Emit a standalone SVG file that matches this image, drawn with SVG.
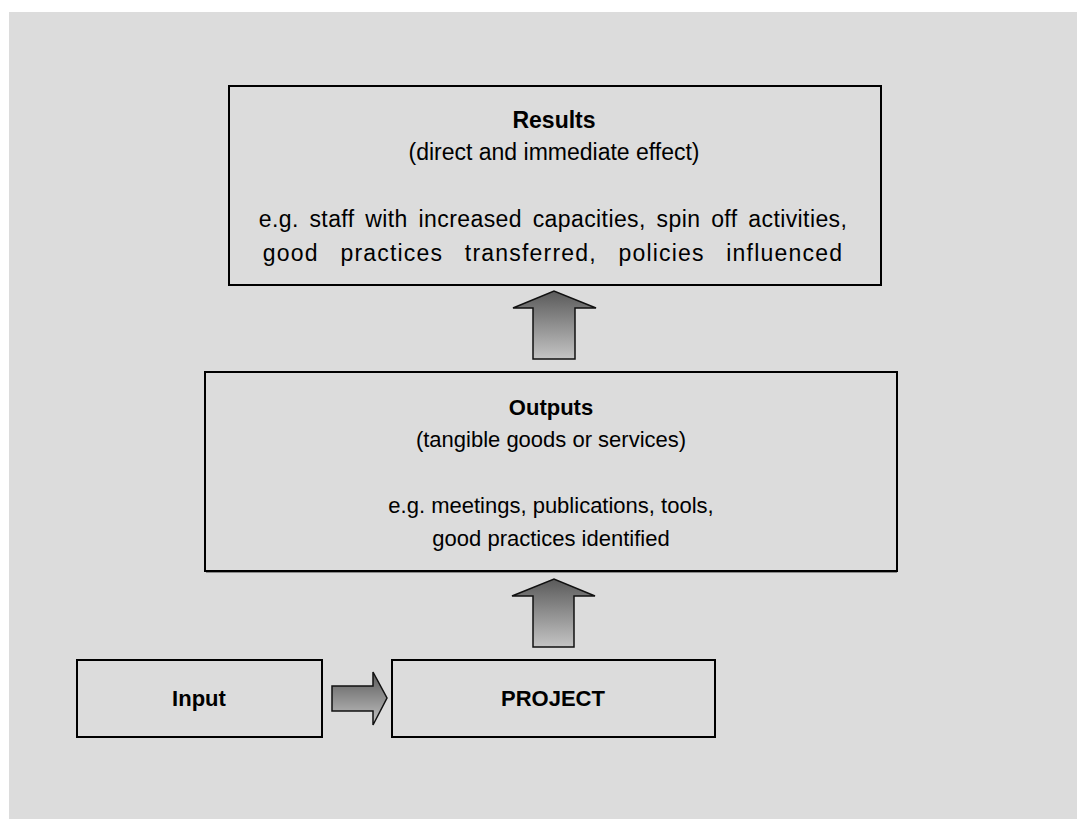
<svg xmlns="http://www.w3.org/2000/svg" width="1077" height="819" viewBox="0 0 1077 819">
<defs>
<linearGradient id="g" x1="0" y1="0" x2="0" y2="1">
<stop offset="0" stop-color="#5a5a5a"/>
<stop offset="1" stop-color="#c4c4c4"/>
</linearGradient>
<style>
.box{fill:none;stroke:#000;stroke-width:2}
.sh{fill:none;stroke:#8a8a8a;stroke-width:2}
.arr{fill:url(#g);stroke:#111;stroke-width:1.5;stroke-linejoin:miter}
text{font-family:"Liberation Sans",Arial,sans-serif;font-size:22px;fill:#000;text-anchor:middle}
.b{font-weight:bold}
.r{font-size:23px}
</style>
</defs>
<rect x="0" y="0" width="1077" height="819" fill="#fff"/>
<rect x="9" y="12" width="1068" height="807" fill="#dcdcdc"/>
<g id="connectors">
<path class="arr" d="M533,359 L533,308 L513,308 L554,291 L596,308 L575,308 L575,359 Z"/>
<path class="arr" d="M533,647 L533,596 L512,596 L554,579 L595,596 L574,596 L574,647 Z"/>
<path class="arr" d="M332,686 L373,686 L373,672 L387,698 L373,725 L373,711 L332,711 Z"/>
</g>
<g id="results">
<rect class="box" x="229" y="86" width="652" height="199"/>
<text class="b r" x="554" y="128">Results</text>
<text class="r" x="554" y="160">(direct and immediate effect)</text>
<text class="r" x="553" y="227" style="word-spacing:4px;letter-spacing:0.4px">e.g. staff with increased capacities, spin off activities,</text>
<text class="r" x="553" y="261" style="word-spacing:14px;letter-spacing:1.2px">good practices transferred, policies influenced</text>
</g>
<g id="outputs">
<path class="sh" d="M206,572 L897,572"/>
<rect class="box" x="205" y="372" width="692" height="199"/>
<text class="b" x="551" y="415">Outputs</text>
<text x="551" y="447">(tangible goods or services)</text>
<text x="551" y="513">e.g. meetings, publications, tools,</text>
<text x="551" y="546">good practices identified</text>
</g>
<g id="input">
<rect class="box" x="77" y="660" width="245" height="77"/>
<text class="b" x="199" y="706">Input</text>
</g>
<g id="project">
<rect class="box" x="392" y="660" width="323" height="77"/>
<text class="b" x="553" y="706">PROJECT</text>
</g>
</svg>
